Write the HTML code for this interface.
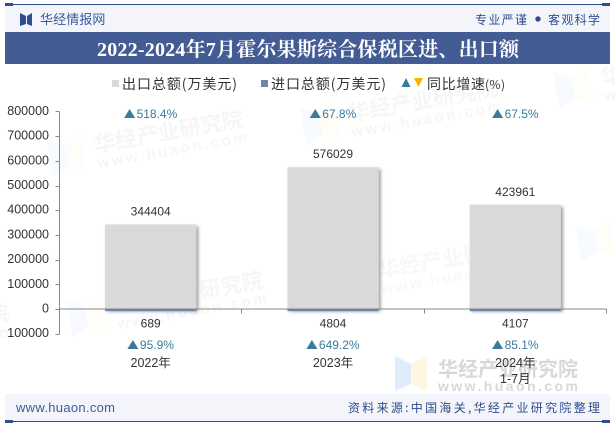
<!DOCTYPE html>
<html><head><meta charset="utf-8">
<style>
html,body{margin:0;padding:0;background:#fff}
#root{position:relative;width:615px;height:427px;overflow:hidden}
svg{display:block;position:absolute;left:0;top:0}
text{font-family:"Liberation Sans","Noto Sans CJK SC",sans-serif}
.cjk{font-family:"Noto Sans CJK SC","WenQuanYi Zen Hei",sans-serif}
</style></head>
<body>
<div id="root">
<svg id="s" width="615" height="427" viewBox="0 0 615 427" xmlns="http://www.w3.org/2000/svg">
<defs>
<filter id="sh" x="-10%" y="-10%" width="125%" height="125%"><feDropShadow dx="2" dy="2" stdDeviation="1.5" flood-color="#000" flood-opacity=".4"/></filter>
</defs>
<rect x="5" y="5" width="605" height="27" fill="#f3f5fa"/>
<rect x="5" y="4" width="605" height="1" fill="#2f4d8f"/>
<rect x="5" y="3" width="8" height="3" fill="#2f4d8f"/>
<rect x="602" y="3" width="8" height="3" fill="#2f4d8f"/>
<g fill="#2f4d8f"><polygon points="20,13 26,16 26,24 20,26"/><polygon points="32,13 27,16 27,24 32,26"/></g>
<text class="cjk" x="40" y="24" font-size="13" letter-spacing=".1" fill="#3b5a9a">华经情报网</text>
<text class="cjk" x="475" y="24" font-size="12" textLength="52" lengthAdjust="spacing" fill="#2f4d8f">专业严谨</text>
<circle cx="538" cy="19" r="2.7" fill="#2f4d8f"/>
<text class="cjk" x="548" y="24" font-size="12" textLength="52" lengthAdjust="spacing" fill="#2f4d8f">客观科学</text>
<rect x="5" y="32" width="605" height="32" fill="#445c94"/>
<text x="97" y="56" textLength="422" lengthAdjust="spacing" font-size="20" font-weight="700" fill="#fff" style="font-family:'Liberation Serif','Noto Serif CJK SC',serif">2022-2024年7月霍尔果斯综合保税区进、出口额</text>

<g id="watermarks"></g>

<g>
<g><rect x="112" y="80" width="7" height="7" fill="#d9d9d9"/><text class="cjk" x="122" y="89" font-size="14" textLength="115" lengthAdjust="spacing" fill="#333">出口总额(万美元)</text></g>
<g><rect x="261" y="80" width="7" height="7" fill="#7084a8"/><text class="cjk" x="271" y="89" font-size="14" textLength="115" lengthAdjust="spacing" fill="#333">进口总额(万美元)</text></g>
<g><polygon points="401.5,87 410.5,87 406,78" fill="#3a7a9c"/><polygon points="414,78 423,78 418.5,87" fill="#f5b400"/><text class="cjk" x="427" y="89" font-size="14" textLength="58" lengthAdjust="spacing" fill="#333">同比增速</text><text class="cjk" x="485" y="89" font-size="12" textLength="20" lengthAdjust="spacing" fill="#333">(%)</text></g>
</g>

<g id="chart"></g>

<rect x="5" y="394" width="605" height="27" fill="#f3f5fa"/>
<rect x="5" y="421" width="605" height="1" fill="#2f4d8f"/>
<rect x="5" y="420" width="8" height="3" fill="#2f4d8f"/>
<rect x="602" y="420" width="8" height="3" fill="#2f4d8f"/>
<text x="16" y="412" font-size="13" textLength="99" lengthAdjust="spacing" fill="#3b5a9a">www.huaon.com</text>
<text class="cjk" x="348" y="412" font-size="12" textLength="252" lengthAdjust="spacing" fill="#2f4d8f">资料来源:中国海关,华经产业研究院整理</text>
</svg>
</div>
<script>
const categories = [["2022年"], ["2023年"], ["2024年", "1-7月"]];
const exportValues = [344404, 576029, 423961];
const importValues = [689, 4804, 4107];
const exportGrowth = ["518.4%", "67.8%", "67.5%"];
const importGrowth = ["95.9%", "649.2%", "85.1%"];
const yTicks = [800000, 700000, 600000, 500000, 400000, 300000, 200000, 100000, 0, -100000];

const NS = "http://www.w3.org/2000/svg";
const plot = document.getElementById("chart");
const wm = document.getElementById("watermarks");
const X0 = 59.5, X1 = 606.5, Y0 = 309.5, PER = 24.7 / 100000;
const band = (X1 - X0) / categories.length;
const xc = i => X0 + band * (i + 0.5);
const yv = v => Y0 - v * PER;
function mk(tag, attrs, parent, txt) {
  const e = document.createElementNS(NS, tag);
  for (const k in attrs) e.setAttribute(k, attrs[k]);
  if (txt !== undefined) e.textContent = txt;
  parent.appendChild(e);
  return e;
}
/* watermarks */
function stamp(x, y, rot, op, s) {
  const g = mk("g", { transform: `translate(${x} ${y}) rotate(${rot}) scale(${s})`, opacity: op }, wm);
  
  
  mk("polygon", { points: "0,0 16,8 16,28 0,35", fill: "#bcd6f7" }, g);
  mk("polygon", { points: "32,0 16,8 16,28 32,35", fill: "#fbefc0" }, g);
  mk("text", { x: 43, y: 20, "font-size": 20, "font-weight": 700, fill: "#aaa", textLength: 140, lengthAdjust: "spacing", class: "cjk" }, g, "华经产业研究院");
  mk("text", { x: 43, y: 35, "font-size": 14, "font-weight": 700, fill: "#aaa", textLength: 140, lengthAdjust: "spacing" }, g, "www.huaon.com");
}
stamp(395, 356, 0, 0.45, 1);
stamp(46, 139, -10, 0.1, 1.08);
stamp(300, 108, -10, 0.1, 1.08);
stamp(553, 72, -10, 0.1, 1.08);
stamp(66, 300, -10, 0.1, 1.08);
stamp(330, 265, -10, 0.08, 1.08);
stamp(575, 225, -10, 0.1, 1.08);
stamp(-188, 333, -10, 0.1, 1.08);

/* y axis */
const yAxis = mk("line", { x1: X0, x2: X0, y1: yv(yTicks[0]), y2: yv(yTicks[yTicks.length - 1]), stroke: "#888", "stroke-width": 1 }, plot);


yTicks.forEach(t => {
  const ty = Math.floor(yv(t)) + 0.5;
  const tk = mk("line", { x1: X0 - 4, x2: X0, y1: ty, y2: ty, stroke: "#888", "stroke-width": 1 }, plot);
  
  
  const lb = mk("text", { x: 49, y: yv(t) + 3, "text-anchor": "end", "font-size": 12.5, fill: "#333" }, plot, String(Math.abs(t)));
  
  
});

/* growth label: triangle plus percentage text, centred on the category */
function growth(i, txt, baseline, name) {
  const t = mk("text", { x: 0, y: baseline, "font-size": 12, fill: "#3a7a9c" }, plot, txt);
  const w = t.getComputedTextLength();
  const left = xc(i) - (w + 12.5) / 2;
  t.setAttribute("x", left + 12.5);
  
  
  const p = mk("polygon", { points: `${left},${baseline} ${left + 11},${baseline} ${left + 5.5},${baseline - 9}`, fill: "#3a7a9c" }, plot);
  
  
}

/* bars */
categories.forEach((c, i) => {
  const bw = band / 2;
  const bx = xc(i) - bw / 2;
  const exTop = yv(exportValues[i]);
  const b = mk("rect", { x: bx, y: exTop, width: bw, height: Y0 - exTop, fill: "#d9d9d9", filter: "url(#sh)" }, plot);
  
  
  const imH = Math.max(1.6, importValues[i] * PER);
  const m = mk("rect", { x: bx, y: Y0, width: bw, height: imH, fill: "#6a82ad" }, plot);
  
  
  const l1 = mk("text", { x: xc(i), y: exTop - 9, "text-anchor": "middle", "font-size": 12, fill: "#333" }, plot, String(exportValues[i]));
  
  
  const l2 = mk("text", { x: xc(i), y: Y0 + imH + 16.5, "text-anchor": "middle", "font-size": 12, fill: "#333" }, plot, String(importValues[i]));
  
  
  growth(i, exportGrowth[i], 118, 'export-growth-label');
  growth(i, importGrowth[i], 349, 'import-growth-label');
  c.forEach((line, j) => {
    const cl = mk("text", { x: xc(i), y: 367 + j * 16, "text-anchor": "middle", "font-size": 12.5, fill: "#333" }, plot, line);
    
    
  });
});

/* x axis */
const xAxis = mk("line", { x1: X0, x2: X1, y1: Y0 - 0.5, y2: Y0 - 0.5, stroke: "#888", "stroke-width": 1 }, plot);


for (let i = 1; i <= categories.length; i++) {
  const tx = Math.floor(X0 + band * i) + 0.5;
  const tk = mk("line", { x1: tx, x2: tx, y1: Y0 - 0.5, y2: Y0 + 4, stroke: "#888", "stroke-width": 1 }, plot);
  
  
}
</script>
</body></html>
